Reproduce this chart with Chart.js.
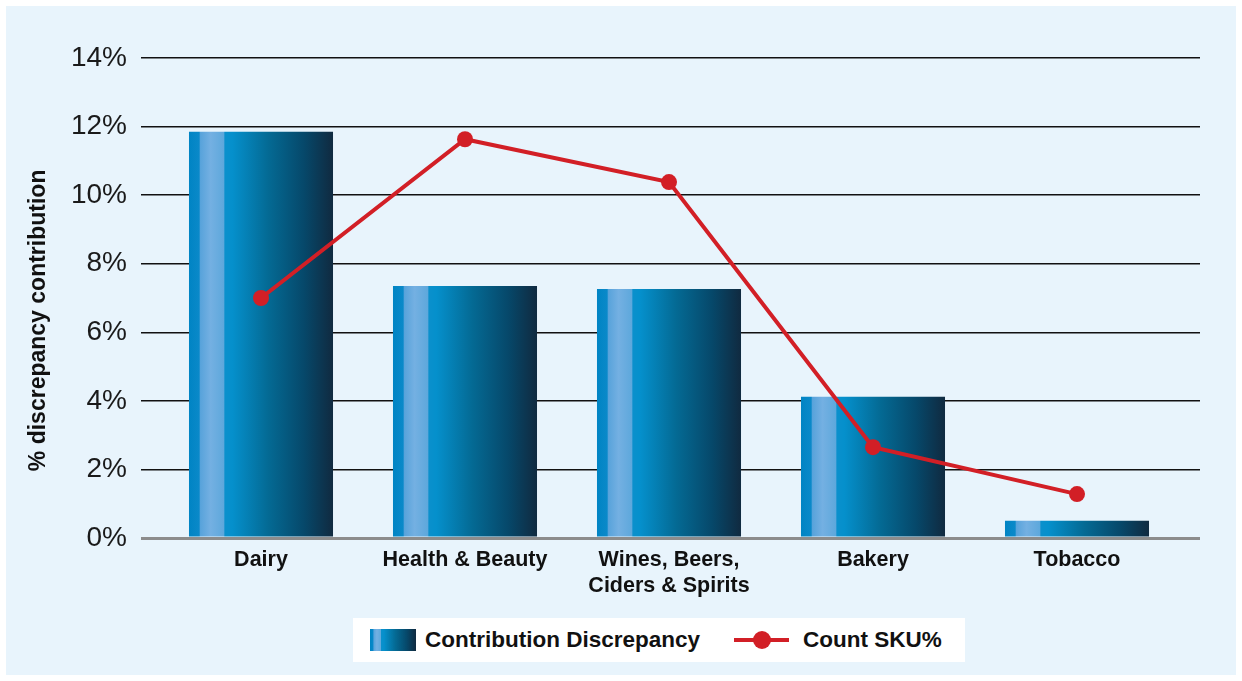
<!DOCTYPE html>
<html>
<head>
<meta charset="utf-8">
<script src="https://cdn.jsdelivr.net/npm/chart.js@4.4.1/dist/chart.umd.min.js"></script>
<style>
  html, body { margin: 0; padding: 0; background: #fff; }
  #wrap { position: relative; width: 1242px; height: 681px; overflow: hidden; }
  #panel { position: absolute; left: 6px; top: 6px; width: 1230px; height: 669px; background: #e8f4fc; }
  #chart { position: absolute; left: 0; top: 0; }
  #legend {
    position: absolute; left: 353px; top: 618px; width: 612px; height: 44px;
    background: #fff; display: flex; align-items: center; box-sizing: border-box; padding-left: 17px;
    font-family: "Liberation Sans Narrow", "Liberation Sans", Arial, sans-serif;
    font-weight: bold; font-size: 22.5px; color: #111;
  }
  #legend .item { display: flex; align-items: center; }
  #legend .swatch { width: 46px; height: 22px; margin-right: 9px; }
  #legend .marker { position: relative; width: 55px; height: 18px; margin-right: 14px; }
  #legend .marker .ln { position: absolute; left: 0; right: 0; top: 7px; height: 4px; }
  #legend .marker .dot { position: absolute; left: 19px; top: 0; width: 18px; height: 18px; border-radius: 50%; }
</style>
</head>
<body>
<div id="wrap">
  <div id="panel"></div>
  <canvas id="chart" width="1242" height="681"></canvas>
  <div id="legend"></div>
</div>
<script>
// ==========================
// Data
// ==========================
const categories = ['Dairy', 'Health & Beauty', ['Wines, Beers,', 'Ciders & Spirits'], 'Bakery', 'Tobacco'];
const contributionDiscrepancy = [11.85, 7.35, 7.26, 4.12, 0.5];
const countSkuPct = [7.0, 11.63, 10.38, 2.65, 1.28];
const yTickValues = [0, 2, 4, 6, 8, 10, 12, 14];

// ==========================
// Styling helpers
// ==========================
const RED = '#d21f26';
const barStops = [
  [0, '#0084c4'], [0.07, '#0a89c9'], [0.08, '#58a3db'], [0.15, '#74b0e2'],
  [0.24, '#5ea8dc'], [0.25, '#0a90cc'], [0.3, '#0590cc'], [0.55, '#046a94'],
  [0.8, '#06486a'], [1, '#102a40']
];

function barGradient(ctx) {
  const chart = ctx.chart;
  const xs = chart.scales.x;
  if (!chart.chartArea || !xs) return '#0088c8';
  const cx = xs.getPixelForValue(ctx.dataIndex);
  const w = (xs.width / categories.length) * 0.706;
  const g = chart.ctx.createLinearGradient(cx - w / 2, 0, cx + w / 2, 0);
  barStops.forEach(s => g.addColorStop(s[0], s[1]));
  return g;
}

const gridColor = c => (c.tick && c.tick.value === 0 ? '#8c8c8c' : '#111');
const gridWidth = c => (c.tick && c.tick.value === 0 ? 3 : 1.5);

// ==========================
// Chart
// ==========================
const chart = new Chart(document.getElementById('chart'), {
  type: 'bar',
  data: {
    labels: categories,
    datasets: [
      {
        type: 'bar',
        label: 'Contribution Discrepancy',
        data: contributionDiscrepancy,
        backgroundColor: barGradient,
        borderWidth: 0,
        barPercentage: 0.706,
        categoryPercentage: 1,
        order: 1
      },
      {
        type: 'line',
        label: 'Count SKU%',
        data: countSkuPct,
        borderColor: RED,
        borderWidth: 4,
        pointRadius: 8,
        pointBackgroundColor: RED,
        pointBorderWidth: 0,
        tension: 0,
        order: 0
      }
    ]
  },
  options: {
    responsive: false,
    animation: false,
    layout: { padding: { top: 58, right: 42, left: 0, bottom: 0 } },
    plugins: {
      legend: { display: false },
      tooltip: { enabled: false }
    },
    scales: {
      x: {
        grid: { display: false, drawTicks: false },
        border: { display: false },
        ticks: {
          color: '#111',
          padding: 9,
          font: { family: '"Liberation Sans Narrow", "Liberation Sans", Arial, sans-serif', size: 21.5, weight: 'bold', lineHeight: 1.2 }
        },
        afterFit: s => { s.height = 143; }
      },
      y: {
        min: 0, max: 14,
        afterBuildTicks: s => { s.ticks = yTickValues.map(v => ({ value: v })); },
        grid: { color: gridColor, lineWidth: gridWidth, tickLength: 18 },
        border: { display: false },
        ticks: {
          color: '#1a1a1a',
          padding: 14,
          font: { family: '"Liberation Sans", Arial, sans-serif', size: 28 },
          callback: v => v + '%'
        },
        title: {
          display: true,
          // trailing spaces nudge the rotated title down to where the original sits
          text: '% discrepancy contribution\u00a0\u00a0\u00a0\u00a0\u00a0\u00a0\u00a0',
          color: '#111',
          padding: { top: 25, bottom: 0 },
          font: { family: '"Liberation Sans", Arial, sans-serif', size: 23, weight: 'bold' }
        },
        afterFit: s => { s.width = 159; }
      },
      y2: {
        position: 'right',
        min: 0, max: 14,
        afterBuildTicks: s => { s.ticks = yTickValues.map(v => ({ value: v })); },
        grid: { drawOnChartArea: false, color: gridColor, lineWidth: gridWidth, tickLength: 21 },
        border: { display: false },
        ticks: { display: false },
        afterFit: s => { s.width = 21; }
      }
    }
  }
});

// ==========================
// HTML legend
// ==========================
const legendEl = document.getElementById('legend');
const cssStops = barStops.map(s => `${s[1]} ${s[0] * 100}%`).join(', ');
chart.data.datasets.forEach(ds => {
  const item = document.createElement('div');
  item.className = 'item';
  if (ds.type === 'line') {
    item.style.marginLeft = '34px';
    item.innerHTML = `<span class="marker"><span class="ln" style="background:${ds.borderColor}"></span>` +
      `<span class="dot" style="background:${ds.pointBackgroundColor}"></span></span>`;
  } else {
    item.innerHTML = `<span class="swatch" style="background:linear-gradient(to right, ${cssStops})"></span>`;
  }
  const txt = document.createElement('span');
  txt.textContent = ds.label;
  item.appendChild(txt);
  legendEl.appendChild(item);
});
</script>
</body>
</html>
